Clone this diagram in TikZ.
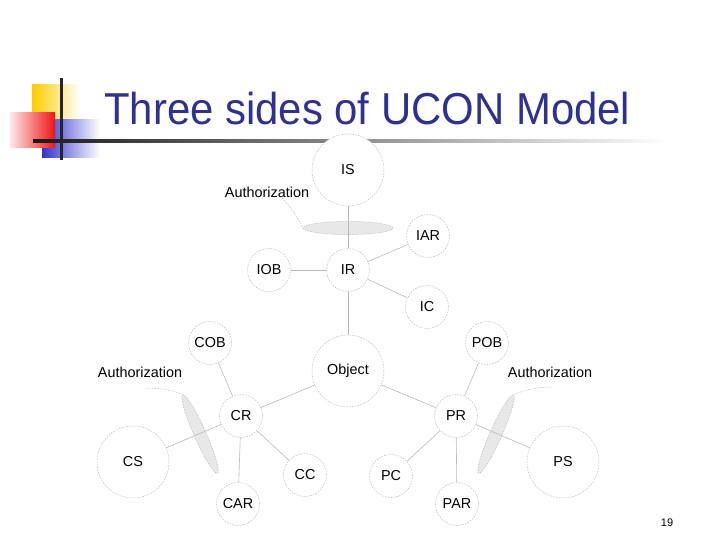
\documentclass[tikz,border=0pt]{standalone}
\usepackage{fontspec}
\setmainfont{Liberation Sans}
\usetikzlibrary{shapes.geometric}
\definecolor{titleblue}{RGB}{46,49,146}
\definecolor{ylw}{RGB}{255,204,0}
\definecolor{blu}{RGB}{51,51,204}
\definecolor{rd}{RGB}{240,20,20}
\definecolor{circ}{RGB}{190,190,190}
\definecolor{lin}{RGB}{185,185,185}
\definecolor{elfill}{RGB}{232,232,232}
\tikzset{
  circnode/.style={circle, draw=circ, dash pattern=on 1.6pt off 1.2pt, line width=0.5pt, fill=white, inner sep=0pt, font=\fontsize{14.4}{16}\selectfont},
  small/.style={circnode, minimum size=43pt},
  big/.style={circnode, minimum size=72pt},
  authel/.style={ellipse, draw=circ, dash pattern=on 1.6pt off 1.2pt, line width=0.5pt, fill=elfill, inner sep=0pt},
  conn/.style={draw=lin, line width=0.6pt},
  authconn/.style={draw=circ, dash pattern=on 1.6pt off 1.2pt, line width=0.5pt},
  authlabel/.style={inner sep=0pt, font=\fontsize{14.4}{16}\selectfont}
}
\begin{document}
\begin{tikzpicture}[x=1pt,y=-1pt]
\useasboundingbox (0,0) rectangle (720,540);
% logo
\shade[left color=ylw, middle color=ylw, right color=white] (32,85) rectangle (80,120);
\shade[left color=blu, middle color=blu, right color=white] (42,120) rectangle (100,158);
\shade[left color=rd!10, right color=rd] (10,113) rectangle (55,148);
\shade[left color=black!90, right color=white] (33,139.5) rectangle (668,142.5);
\fill[black!85] (60,78) rectangle (62.5,160);
% title
\node[anchor=base west, inner sep=0pt, text=titleblue, font=\fontsize{44.7}{50}\selectfont] (title) at (104,125) {\scalebox{0.937}[1]{Three sides of UCON Model}};
% ellipses
\node[authel, minimum width=90pt, minimum height=13pt] (e1) at (348,228) {};
\node[authel, minimum width=86pt, minimum height=12pt, rotate=-66] (e2) at (200,434) {};
\node[authel, minimum width=86pt, minimum height=12pt, rotate=66] (e3) at (496,434) {};
% nodes
\node[big] (IS) at (348,170) {IS};
\node[small] (IAR) at (428,236) {IAR};
\node[small] (IR) at (348,270) {IR};
\node[small] (IOB) at (269,270) {IOB};
\node[small] (IC) at (427,307) {IC};
\node[big] (Obj) at (348,371) {Object};
\node[small] (COB) at (210,343) {COB};
\node[small] (CR) at (241,416) {CR};
\node[big] (CS) at (133,462) {CS};
\node[small] (CC) at (305,475) {CC};
\node[small] (CAR) at (238,504) {CAR};
\node[small] (POB) at (487,343) {POB};
\node[small] (PR) at (456,416) {PR};
\node[big] (PS) at (563,462) {PS};
\node[small] (PC) at (391,476) {PC};
\node[small] (PAR) at (457,504) {PAR};
% connectors
\draw[conn] (IS) -- (IR);
\draw[conn] (IR) -- (IOB);
\draw[conn] (IR) -- (IAR);
\draw[conn] (IR) -- (IC);
\draw[conn] (IR) -- (Obj);
\draw[conn] (Obj) -- (CR);
\draw[conn] (CR) -- (COB);
\draw[conn] (CR) -- (CS);
\draw[conn] (CR) -- (CAR);
\draw[conn] (CR) -- (CC);
\draw[conn] (Obj) -- (PR);
\draw[conn] (PR) -- (POB);
\draw[conn] (PR) -- (PS);
\draw[conn] (PR) -- (PAR);
\draw[conn] (PR) -- (PC);
% authorization labels
\node[authlabel] (a1) at (267,192) {Authorization};
\node[authlabel] (a2) at (140,372) {Authorization};
\node[authlabel] (a3) at (550,372) {Authorization};
\coordinate (a1s) at (282,198);
\coordinate (a2s) at (146,388);
\coordinate (a3s) at (552,387);
\draw[authconn] (a1s) to[bend left=8] (e1.west);
\draw[authconn] (a2s) to[bend left=10] (e2.west);
\draw[authconn] (a3s) to[bend right=10] (e3.east);
% page number
\node[inner sep=0pt, font=\fontsize{11}{13}\selectfont] (pg) at (667,523) {19};
\end{tikzpicture}
\end{document}
